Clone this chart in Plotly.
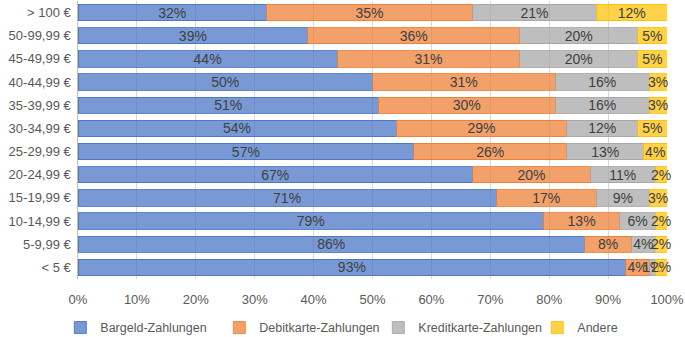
import plotly.graph_objects as go

categories = ["< 5 €", "5-9,99 €", "10-14,99 €", "15-19,99 €", "20-24,99 €", "25-29,99 €",
              "30-34,99 €", "35-39,99 €", "40-44,99 €", "45-49,99 €", "50-99,99 €", "> 100 €"]
bargeld = [93, 86, 79, 71, 67, 57, 54, 51, 50, 44, 39, 32]
debitkarte = [4, 8, 13, 17, 20, 26, 29, 30, 31, 31, 36, 35]
kreditkarte = [1, 4, 6, 9, 11, 13, 12, 16, 16, 20, 20, 21]
andere = [2, 2, 2, 3, 2, 4, 5, 3, 3, 5, 5, 12]

series = [
    ("Bargeld-Zahlungen", bargeld, (68, 114, 196)),
    ("Debitkarte-Zahlungen", debitkarte, (237, 125, 49)),
    ("Kreditkarte-Zahlungen", kreditkarte, (165, 165, 165)),
    ("Andere", andere, (255, 192, 0)),
]

FONT = "Liberation Sans Narrow, Liberation Sans, Arial"
fig = go.Figure()
for name, vals, (r, g, b) in series:
    fig.add_trace(go.Bar(
        y=categories, x=vals, name=name, orientation="h",
        marker=dict(color=f"rgba({r},{g},{b},0.72)",
                    line=dict(color=f"rgba({r},{g},{b},0.85)", width=1)),
        text=[f"{v}%" for v in vals], textposition="inside",
        insidetextanchor="middle", textangle=0, constraintext="none",
        textfont=dict(family=FONT, size=14, color="#404040"),
        cliponaxis=False,
    ))

fig.update_layout(
    barmode="stack", bargap=0.3,
    width=685, height=337,
    margin=dict(l=78, r=18, t=1, b=58, autoexpand=False),
    plot_bgcolor="white", paper_bgcolor="white",
    font=dict(family=FONT, size=13, color="#595959"),
    xaxis=dict(range=[0, 100], tickvals=list(range(0, 101, 10)),
               ticktext=[f"{v}%" for v in range(0, 101, 10)],
               showgrid=True, gridcolor="#D9D9D9", gridwidth=1, zeroline=False,
               ticks="", ticklabelstandoff=11, automargin=False,
               tickfont=dict(size=13, color="#595959"), fixedrange=True),
    yaxis=dict(categoryorder="array", categoryarray=categories, showgrid=False,
               showline=True, linecolor="#BFBFBF", ticks="", ticksuffix=" ",
               automargin=False, tickfont=dict(size=13, color="#595959")),
    legend=dict(orientation="h", x=-0.03, xanchor="left",
                y=-0.176, yanchor="middle",
                font=dict(size=12.5, color="#595959"), itemwidth=30, traceorder="normal",
                entrywidth=114),
)

fig.write_html("out.html", config={"displayModeBar": False},
               post_script="document.body.style.margin='0';")
